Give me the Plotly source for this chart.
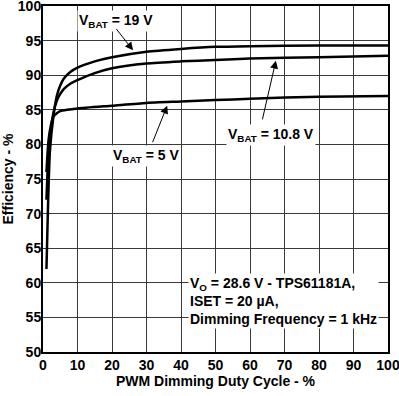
import plotly.graph_objects as go

duty_19 = [1, 1.5, 2, 3, 4, 5, 6, 8, 10, 15, 20, 30, 40, 50, 60, 80, 100]
eff_19 = [62, 72, 79, 84, 87, 88.5, 89.5, 90.5, 91.1, 92.0, 92.6, 93.4, 93.8, 94.1, 94.2, 94.3, 94.3]

duty_108 = [1, 1.5, 2, 3, 4, 5, 6, 8, 10, 15, 20, 30, 40, 50, 60, 80, 100]
eff_108 = [72, 78, 81, 84.5, 86.3, 87.3, 88.0, 88.8, 89.3, 90.3, 91.0, 91.7, 92.0, 92.2, 92.4, 92.6, 92.8]

duty_5 = [1, 1.5, 2, 3, 4, 5, 7, 10, 20, 30, 40, 50, 60, 80, 100]
eff_5 = [76, 80, 82, 84, 84.5, 84.8, 85.0, 85.2, 85.6, 86.0, 86.2, 86.4, 86.6, 86.9, 87.0]

x_ticks = [0, 10, 20, 30, 40, 50, 60, 70, 80, 90, 100]
y_ticks = [50, 55, 60, 65, 70, 75, 80, 85, 90, 95, 100]

FONT = "Liberation Sans, Arial, sans-serif"

fig = go.Figure()
for xs, ys in [(duty_19, eff_19), (duty_108, eff_108), (duty_5, eff_5)]:
    fig.add_trace(go.Scatter(x=xs, y=ys, mode="lines",
                             line=dict(color="black", width=2.5, shape="spline", smoothing=0.6),
                             showlegend=False, cliponaxis=True, hoverinfo="skip"))

annots = []
def label(text, x, y, xanchor="center"):
    annots.append(dict(x=x, y=y, xref="x", yref="y", text=text, showarrow=False,
                       xanchor=xanchor, yanchor="middle", bgcolor="white",
                       font=dict(family=FONT, size=14, color="black")))

def arrow(x0, y0, x1, y1):
    annots.append(dict(x=x1, y=y1, ax=x0, ay=y0, xref="x", yref="y", axref="x", ayref="y",
                       text="", showarrow=True, arrowhead=2, arrowsize=1.6, arrowwidth=1,
                       arrowcolor="black", standoff=0))

label("<b>V<sub>BAT</sub> = 19 V</b>", 21.3, 97.9)
arrow(20.9, 96.9, 26.1, 93.6)
label("<b>V<sub>BAT</sub> = 10.8 V</b>", 66, 81.3)
arrow(63.5, 83.4, 67.5, 92.1)
label("<b>V<sub>BAT</sub> = 5 V</b>", 29.8, 78.3)
arrow(31.6, 80.1, 36, 85.6)

note = ("<b>V<sub>O</sub> = 28.6 V - TPS61181A,<br>ISET = 20 \u00b5A,<br>"
        "Dimming Frequency = 1 kHz</b>")
annots.append(dict(x=42, y=57.4, xref="x", yref="y", text=note, showarrow=False,
                   xanchor="left", yanchor="middle", align="left", bgcolor="white",
                   font=dict(family=FONT, size=14, color="black")))

fig.update_layout(
    width=399, height=396,
    margin=dict(l=43, r=11, t=6, b=44),
    paper_bgcolor="white", plot_bgcolor="white",
    font=dict(family=FONT, size=14, color="black"),
    annotations=annots,
    xaxis=dict(range=[0, 100], tickvals=x_ticks, ticktext=[f"<b>{v}</b>" for v in x_ticks],
               showgrid=True, gridcolor="#3a3a3a", gridwidth=1,
               showline=True, linecolor="black", linewidth=2, mirror=True,
               ticks="", zeroline=False, automargin=False, ticklabeloverflow="allow",
               ticklabelstandoff=-1,
               title=dict(text="<b>PWM Dimming Duty Cycle - %</b>", standoff=0,
                          font=dict(family=FONT, size=14))),
    yaxis=dict(range=[50, 100], tickvals=y_ticks, ticktext=[f"<b>{v}</b>" for v in y_ticks],
               showgrid=True, gridcolor="#3a3a3a", gridwidth=1,
               showline=True, linecolor="black", linewidth=2, mirror=True,
               ticks="", zeroline=False, automargin=False, ticklabeloverflow="allow",
               ticklabelstandoff=-3,
               title=dict(text="<b>Efficiency - %</b>", standoff=4,
                          font=dict(family=FONT, size=14))),
)

fig.write_html("out.html", config={"displayModeBar": False, "staticPlot": True},
               post_script="document.body.style.margin='0';document.body.style.overflow='hidden';")
